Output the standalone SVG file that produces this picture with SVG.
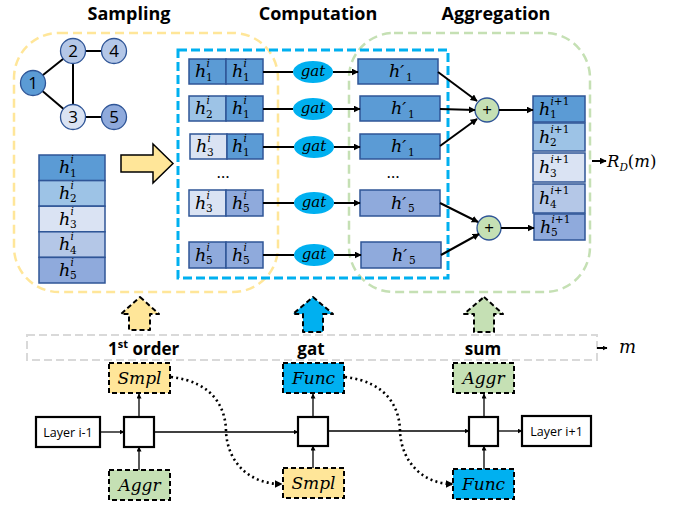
<svg xmlns="http://www.w3.org/2000/svg" width="677" height="506" viewBox="0 0 677 506">
  <defs>
    <marker id="ah" viewBox="0 0 10 10" refX="9" refY="5" markerWidth="7" markerHeight="7" orient="auto" markerUnits="userSpaceOnUse">
      <path d="M0,0 L10,5 L0,10 z" fill="#000"/>
    </marker>
    <marker id="ahs" viewBox="0 0 10 10" refX="9" refY="5" markerWidth="5" markerHeight="5" orient="auto" markerUnits="userSpaceOnUse">
      <path d="M0,0 L10,5 L0,10 z" fill="#000"/>
    </marker>
    <marker id="ahd" viewBox="0 0 10 10" refX="8" refY="5" markerWidth="8" markerHeight="8" orient="auto" markerUnits="userSpaceOnUse">
      <path d="M0,0 L10,5 L0,10 z" fill="#000"/>
    </marker>
  </defs>
  <style>
    .title { font-family: "Open Sans", "Liberation Sans", sans-serif; font-weight: bold; font-size: 18px; fill: #000; }
    .lbl { font-family: "Open Sans", "Liberation Sans", sans-serif; font-weight: bold; font-size: 17px; fill: #000; }
    .num { font-family: "Open Sans", "Liberation Sans", sans-serif; font-size: 17px; fill: #000; }
    .layer { font-family: "Open Sans", "Liberation Sans", sans-serif; font-size: 12.5px; fill: #000; }
    .mi { font-family: "DejaVu Serif", "Liberation Serif", serif; font-style: italic; font-size: 17.5px; fill: #000; }
    .ms { font-style: italic; font-size: 10.5px; }
    .mn { font-style: normal; font-size: 10.5px; }
    .fn { font-family: "DejaVu Serif", "Liberation Serif", serif; font-style: italic; font-size: 17px; fill: #000; }
    .gat { font-family: "DejaVu Serif", "Liberation Serif", serif; font-style: italic; font-size: 15px; fill: #000; }
    .c1 { fill: #5B9BD5; } .c2 { fill: #9DC3E6; } .c3 { fill: #DAE3F3; } .c4 { fill: #B4C7E7; } .c5 { fill: #8FAADC; }
    .cell { stroke: #2F5597; stroke-width: 1.5; }
    .node { stroke: #2F5597; stroke-width: 1.3; }
    .edge { stroke: #000; stroke-width: 2; fill: none; }
    .ln { stroke: #000; stroke-width: 2; fill: none; }
    .thin { stroke: #000; stroke-width: 1.3; fill: none; }
    .dot { stroke: #000; stroke-width: 2.6; fill: none; stroke-dasharray: 2 3.2; }
    .dbox { stroke: #000; stroke-width: 2; stroke-dasharray: 5 3; }
    .blk { fill: #fff; stroke: #000; stroke-width: 2.2; }
  </style>

  <!-- section headings -->
  <text class="title" x="129" y="20" text-anchor="middle">Sampling</text>
  <text class="title" x="318" y="20" text-anchor="middle">Computation</text>
  <text class="title" x="496" y="20" text-anchor="middle">Aggregation</text>

  <!-- stage containers -->
  <g id="sampling-area">
    <rect x="14" y="33" width="264" height="259" rx="45" ry="45" fill="none" stroke="#FFE699" stroke-width="2.5" stroke-dasharray="9 5"/>
  </g>
  <g id="aggregation-area">
    <rect x="349" y="33" width="241" height="259" rx="45" ry="45" fill="none" stroke="#C5E0B4" stroke-width="2.5" stroke-dasharray="9 5"/>
  </g>
  <g id="computation-area">
    <rect x="178" y="50" width="270" height="228" fill="none" stroke="#00B0F0" stroke-width="3" stroke-dasharray="9 4"/>
  </g>

  <!-- sample graph -->
  <g id="graph">
    <line class="edge" x1="33" y1="83" x2="73" y2="51"/>
    <line class="edge" x1="33" y1="83" x2="73" y2="117"/>
    <line class="edge" x1="73" y1="51" x2="114" y2="51"/>
    <line class="edge" x1="73" y1="51" x2="73" y2="117"/>
    <line class="edge" x1="73" y1="117" x2="114" y2="117"/>
    <g id="n1"><circle class="node c1" cx="33" cy="83" r="12.5"/><text class="num" x="33" y="89" text-anchor="middle">1</text></g>
    <g id="n2"><circle class="node c4" cx="73" cy="51" r="12.5"/><text class="num" x="73" y="57" text-anchor="middle">2</text></g>
    <g id="n4"><circle class="node c4" cx="114" cy="51" r="12.5"/><text class="num" x="114" y="57" text-anchor="middle">4</text></g>
    <g id="n3"><circle class="node c3" cx="73" cy="117" r="12.5"/><text class="num" x="73" y="123" text-anchor="middle">3</text></g>
    <g id="n5"><circle class="node c5" cx="114" cy="117" r="12.5"/><text class="num" x="114" y="123" text-anchor="middle">5</text></g>
  </g>

  <!-- layer-i feature stack -->
  <g id="feature-stack">
    <rect class="cell c1" x="39" y="155" width="66" height="25.6"/>
    <rect class="cell c2" x="39" y="180.6" width="66" height="25.6"/>
    <rect class="cell c3" x="39" y="206.2" width="66" height="25.6"/>
    <rect class="cell c4" x="39" y="231.8" width="66" height="25.6"/>
    <rect class="cell c5" x="39" y="257.4" width="66" height="25.6"/>
    <text class="mi" x="59" y="173.3">h<tspan class="ms" x="70.5" y="163.3">i</tspan><tspan class="mn" x="70" y="176.8">1</tspan></text>
    <text class="mi" x="59" y="198.9">h<tspan class="ms" x="70.5" y="188.9">i</tspan><tspan class="mn" x="70" y="202.4">2</tspan></text>
    <text class="mi" x="59" y="224.5">h<tspan class="ms" x="70.5" y="214.5">i</tspan><tspan class="mn" x="70" y="228">3</tspan></text>
    <text class="mi" x="59" y="250.1">h<tspan class="ms" x="70.5" y="240.1">i</tspan><tspan class="mn" x="70" y="253.6">4</tspan></text>
    <text class="mi" x="59" y="275.7">h<tspan class="ms" x="70.5" y="265.7">i</tspan><tspan class="mn" x="70" y="279.2">5</tspan></text>
  </g>

  <!-- hand-off arrow into computation -->
  <g id="sample-arrow">
    <path d="M121,155 L153,155 L153,144 L173,163.5 L153,183 L153,172 L121,172 Z" fill="#FFE699" stroke="#000" stroke-width="1.5"/>
  </g>

  <!-- edge pairs -->
  <g id="pair1">
    <rect class="cell c1" x="189" y="59" width="37" height="25"/><rect class="cell c1" x="226" y="59" width="37" height="25"/>
    <text class="mi" x="195" y="77">h<tspan class="ms" x="206.5" y="67">i</tspan><tspan class="mn" x="206" y="80.5">1</tspan></text>
    <text class="mi" x="232" y="77">h<tspan class="ms" x="243.5" y="67">i</tspan><tspan class="mn" x="243" y="80.5">1</tspan></text>
  </g>
  <g id="pair2">
    <rect class="cell c2" x="189" y="96" width="37" height="25"/><rect class="cell c1" x="226" y="96" width="37" height="25"/>
    <text class="mi" x="195" y="114">h<tspan class="ms" x="206.5" y="104">i</tspan><tspan class="mn" x="206" y="117.5">2</tspan></text>
    <text class="mi" x="232" y="114">h<tspan class="ms" x="243.5" y="104">i</tspan><tspan class="mn" x="243" y="117.5">1</tspan></text>
  </g>
  <g id="pair3">
    <rect class="cell c3" x="190" y="134" width="37" height="25"/><rect class="cell c1" x="227" y="134" width="36" height="25"/>
    <text class="mi" x="196" y="152">h<tspan class="ms" x="207.5" y="142">i</tspan><tspan class="mn" x="207" y="155.5">3</tspan></text>
    <text class="mi" x="232" y="152">h<tspan class="ms" x="243.5" y="142">i</tspan><tspan class="mn" x="243" y="155.5">1</tspan></text>
  </g>
  <text class="num" x="223" y="178" text-anchor="middle">…</text>
  <g id="pair4">
    <rect class="cell c3" x="189" y="190" width="37" height="26"/><rect class="cell c5" x="226" y="190" width="37" height="26"/>
    <text class="mi" x="195" y="208.5">h<tspan class="ms" x="206.5" y="198.5">i</tspan><tspan class="mn" x="206" y="212">3</tspan></text>
    <text class="mi" x="232" y="208.5">h<tspan class="ms" x="243.5" y="198.5">i</tspan><tspan class="mn" x="243" y="212">5</tspan></text>
  </g>
  <g id="pair5">
    <rect class="cell c5" x="189" y="242" width="37" height="26"/><rect class="cell c5" x="226" y="242" width="37" height="26"/>
    <text class="mi" x="195" y="260.5">h<tspan class="ms" x="206.5" y="250.5">i</tspan><tspan class="mn" x="206" y="264">5</tspan></text>
    <text class="mi" x="232" y="260.5">h<tspan class="ms" x="243.5" y="250.5">i</tspan><tspan class="mn" x="243" y="264">5</tspan></text>
  </g>

  <!-- gat operators -->
  <g id="gat1"><ellipse cx="313" cy="72" rx="20" ry="11" fill="#00B0F0"/><text class="gat" x="313" y="76" text-anchor="middle">gat</text></g>
  <g id="gat2"><ellipse cx="313" cy="109" rx="20" ry="11" fill="#00B0F0"/><text class="gat" x="313" y="113" text-anchor="middle">gat</text></g>
  <g id="gat3"><ellipse cx="314" cy="147" rx="20" ry="11" fill="#00B0F0"/><text class="gat" x="314" y="151" text-anchor="middle">gat</text></g>
  <g id="gat4"><ellipse cx="314" cy="203" rx="20" ry="11" fill="#00B0F0"/><text class="gat" x="314" y="207" text-anchor="middle">gat</text></g>
  <g id="gat5"><ellipse cx="314" cy="255" rx="20" ry="11" fill="#00B0F0"/><text class="gat" x="314" y="259" text-anchor="middle">gat</text></g>

  <!-- transformed messages -->
  <g id="msg1"><rect class="cell c1" x="358" y="59" width="80" height="25"/><text class="mi" x="389" y="77">h′<tspan class="mn" x="406" y="80.5">1</tspan></text></g>
  <g id="msg2"><rect class="cell c1" x="360" y="96" width="80" height="25"/><text class="mi" x="391" y="114">h′<tspan class="mn" x="408" y="117.5">1</tspan></text></g>
  <g id="msg3"><rect class="cell c1" x="360" y="134" width="80" height="25"/><text class="mi" x="391" y="152">h′<tspan class="mn" x="408" y="155.5">1</tspan></text></g>
  <text class="num" x="393" y="178" text-anchor="middle">…</text>
  <g id="msg4"><rect class="cell c5" x="360" y="190" width="80" height="26"/><text class="mi" x="391" y="208.5">h′<tspan class="mn" x="408" y="212">5</tspan></text></g>
  <g id="msg5"><rect class="cell c5" x="361" y="242" width="80" height="26"/><text class="mi" x="392" y="260.5">h′<tspan class="mn" x="409" y="264">5</tspan></text></g>

  <!-- sum nodes -->
  <g id="sum1"><circle cx="487" cy="110" r="12" fill="#C5E0B4" stroke="#2F5597" stroke-width="1.3"/><text class="num" x="487" y="116" text-anchor="middle">+</text></g>
  <g id="sum2"><circle cx="489" cy="228" r="12" fill="#C5E0B4" stroke="#2F5597" stroke-width="1.3"/><text class="num" x="489" y="234" text-anchor="middle">+</text></g>

  <!-- layer i+1 feature stack -->
  <g id="output-stack">
    <rect class="cell c1" x="533" y="96" width="52" height="26"/>
    <rect class="cell c2" x="533" y="123" width="52" height="28"/>
    <rect class="cell c3" x="533" y="153" width="52" height="29"/>
    <rect class="cell c4" x="533" y="184" width="52" height="29"/>
    <rect class="cell c5" x="534" y="214" width="51" height="26"/>
    <text class="mi" x="539" y="114.5">h<tspan class="ms" x="550.5" y="104.5">i</tspan><tspan class="mn">+1</tspan><tspan class="mn" x="550" y="118">1</tspan></text>
    <text class="mi" x="539" y="142.5">h<tspan class="ms" x="550.5" y="132.5">i</tspan><tspan class="mn">+1</tspan><tspan class="mn" x="550" y="146">2</tspan></text>
    <text class="mi" x="539" y="173">h<tspan class="ms" x="550.5" y="163">i</tspan><tspan class="mn">+1</tspan><tspan class="mn" x="550" y="176.5">3</tspan></text>
    <text class="mi" x="539" y="204">h<tspan class="ms" x="550.5" y="194">i</tspan><tspan class="mn">+1</tspan><tspan class="mn" x="550" y="207.5">4</tspan></text>
    <text class="mi" x="540" y="232.5">h<tspan class="ms" x="551.5" y="222.5">i</tspan><tspan class="mn">+1</tspan><tspan class="mn" x="551" y="236">5</tspan></text>
  </g>
  <g id="readout">
    <text class="fn" x="607" y="167" style="font-size:16.5px">R<tspan style="font-size:10.5px" dy="4">D</tspan><tspan dy="-4" style="font-style:normal">(</tspan>m<tspan style="font-style:normal">)</tspan></text>
  </g>

  <!-- connectors of the upper pipeline -->
  <g id="connectors-top">
    <line class="ln" x1="263" y1="72" x2="293" y2="72"/>
    <line class="ln" x1="263" y1="109" x2="293" y2="109"/>
    <line class="ln" x1="263" y1="147" x2="294" y2="147"/>
    <line class="ln" x1="263" y1="203" x2="294" y2="203"/>
    <line class="ln" x1="263" y1="255" x2="294" y2="255"/>
    <line class="ln" x1="333" y1="72" x2="358" y2="72" marker-end="url(#ah)"/>
    <line class="ln" x1="333" y1="109" x2="360" y2="109" marker-end="url(#ah)"/>
    <line class="ln" x1="334" y1="147" x2="360" y2="147" marker-end="url(#ah)"/>
    <line class="ln" x1="334" y1="203" x2="360" y2="203" marker-end="url(#ah)"/>
    <line class="ln" x1="334" y1="255" x2="361" y2="255" marker-end="url(#ah)"/>
    <line class="ln" x1="438" y1="72" x2="477" y2="101" marker-end="url(#ah)"/>
    <line class="ln" x1="440" y1="109" x2="475" y2="110" marker-end="url(#ah)"/>
    <line class="ln" x1="440" y1="146" x2="477" y2="119" marker-end="url(#ah)"/>
    <line class="ln" x1="440" y1="203" x2="478" y2="222" marker-end="url(#ah)"/>
    <line class="ln" x1="441" y1="255" x2="479" y2="234" marker-end="url(#ah)"/>
    <line class="ln" x1="499" y1="110" x2="533" y2="110" marker-end="url(#ah)"/>
    <line class="ln" x1="501" y1="228" x2="534" y2="228" marker-end="url(#ah)"/>
    <line class="ln" x1="592" y1="161" x2="606" y2="161" marker-end="url(#ah)"/>
  </g>

  <!-- configuration band -->
  <g id="config-band">
    <rect x="27" y="335" width="570" height="25" fill="none" stroke="#D9D9D9" stroke-width="2" stroke-dasharray="8 4"/>
    <text class="lbl" x="108" y="355">1<tspan dy="-7" style="font-size:11px">st</tspan><tspan dy="7"> order</tspan></text>
    <text class="lbl" x="311" y="355" text-anchor="middle">gat</text>
    <text class="lbl" x="483" y="355" text-anchor="middle">sum</text>
    <line class="ln" x1="597" y1="348" x2="607" y2="348" marker-end="url(#ahs)"/>
    <text class="fn" x="619" y="353" style="font-size:18px">m</text>
  </g>

  <!-- stage selectors -->
  <g id="up-sampling"><path d="M140,297 L159,314 L150,314 L150,330 L129,330 L129,314 L121,314 Z" fill="#FFE699" class="dbox" stroke-linejoin="round"/></g>
  <g id="up-computation"><path d="M313,297 L333,314 L323,314 L323,332 L303,332 L303,314 L293,314 Z" fill="#00B0F0" class="dbox" stroke-linejoin="round"/></g>
  <g id="up-aggregation"><path d="M484,297 L503,314 L494,314 L494,332 L474,332 L474,314 L464,314 Z" fill="#C5E0B4" class="dbox" stroke-linejoin="round"/></g>

  <!-- layer chain -->
  <g id="layer-prev"><rect class="blk" x="36" y="417" width="64" height="30"/><text class="layer" x="68" y="437" text-anchor="middle">Layer i-1</text></g>
  <g id="layer-next"><rect class="blk" x="522" y="416" width="69" height="30"/><text class="layer" x="556.5" y="436" text-anchor="middle">Layer i+1</text></g>
  <g id="block1"><rect class="blk" x="124" y="417" width="30" height="30"/></g>
  <g id="block2"><rect class="blk" x="298" y="417" width="30" height="29"/></g>
  <g id="block3"><rect class="blk" x="469" y="417" width="29" height="29"/></g>

  <g id="smpl1"><rect class="dbox" fill="#FFE699" x="109" y="363" width="61" height="30"/><text class="fn" x="139.5" y="384" text-anchor="middle">Smpl</text></g>
  <g id="aggr1"><rect class="dbox" fill="#C5E0B4" x="109" y="470" width="61" height="30"/><text class="fn" x="139.5" y="491" text-anchor="middle">Aggr</text></g>
  <g id="func2"><rect class="dbox" fill="#00B0F0" x="283" y="363" width="61" height="30"/><text class="fn" x="313.5" y="384" text-anchor="middle">Func</text></g>
  <g id="smpl2"><rect class="dbox" fill="#FFE699" x="283" y="468" width="61" height="30"/><text class="fn" x="313.5" y="489" text-anchor="middle">Smpl</text></g>
  <g id="aggr3"><rect class="dbox" fill="#C5E0B4" x="453" y="363" width="61" height="30"/><text class="fn" x="483.5" y="384" text-anchor="middle">Aggr</text></g>
  <g id="func3"><rect class="dbox" fill="#00B0F0" x="453" y="469" width="61" height="30"/><text class="fn" x="483.5" y="490" text-anchor="middle">Func</text></g>

  <!-- connectors of the layer chain -->
  <g id="connectors-bottom">
    <line class="thin" x1="100" y1="432" x2="124" y2="432" marker-end="url(#ahs)"/>
    <line class="thin" x1="154" y1="432" x2="298" y2="432" marker-end="url(#ahs)"/>
    <line class="thin" x1="328" y1="431" x2="469" y2="431" marker-end="url(#ahs)"/>
    <line class="thin" x1="498" y1="431" x2="522" y2="431" marker-end="url(#ahs)"/>
    <line class="thin" x1="139" y1="417" x2="139" y2="394" marker-end="url(#ahs)"/>
    <line class="thin" x1="139" y1="470" x2="139" y2="447" marker-end="url(#ahs)"/>
    <line class="thin" x1="313" y1="417" x2="313" y2="394" marker-end="url(#ahs)"/>
    <line class="thin" x1="313" y1="468" x2="313" y2="446" marker-end="url(#ahs)"/>
    <line class="thin" x1="484" y1="417" x2="484" y2="394" marker-end="url(#ahs)"/>
    <line class="thin" x1="484" y1="469" x2="484" y2="446" marker-end="url(#ahs)"/>
    <path class="dot" d="M171,377 C215,382 226,410 226,432 C228,465 252,484 281,484" marker-end="url(#ahd)"/>
    <path class="dot" d="M345,377 C389,382 400,410 400,432 C402,465 426,484 452,484" marker-end="url(#ahd)"/>
  </g>
</svg>
